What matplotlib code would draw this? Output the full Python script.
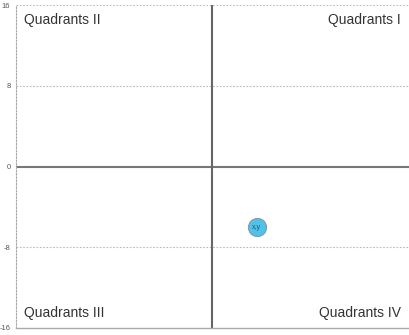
import matplotlib
matplotlib.use("Agg")
import matplotlib.pyplot as plt

x_vals = [3.6]
y_vals = [-6]
point_labels = ["x,y"]
y_ticks = [-16, -8, 0, 8, 16]
quadrant_labels = ["Quadrants I", "Quadrants II", "Quadrants III", "Quadrants IV"]

plt.rcParams['font.family'] = ['Liberation Sans', 'DejaVu Sans']
fig = plt.figure(figsize=(4.1, 3.35), dpi=100)
ax = fig.add_axes([16/410, 1-328/335, 393/410, 323/335])
ax.set_xlim(-16, 16)
ax.set_ylim(-16, 16)

for s in ['top', 'right']:
    ax.spines[s].set_visible(False)
ax.spines['left'].set_linestyle((0, (1.5, 1.5)))
ax.spines['left'].set_color('#aaaaaa')
ax.spines['left'].set_linewidth(0.8)
ax.spines['bottom'].set_color('#aaaaaa')
ax.spines['bottom'].set_linewidth(1.0)

ax.set_xticks([])
ax.set_yticks(y_ticks)
ax.set_yticklabels([str(t) for t in y_ticks], fontsize=5.5, color='#555555')
ax.tick_params(axis='y', length=0, pad=4)

for t in y_ticks:
    if t not in (0, -16):
        ax.axhline(t, color='#bbbbbb', linestyle=(0, (1.5, 1.5)), linewidth=0.8, zorder=1)

ax.axhline(0, color='#777777', linewidth=1.5, zorder=2)
ax.axvline(0, color='#666666', linewidth=1.5, zorder=2)

ax.scatter(x_vals, y_vals, s=170, color='#4ec2ea', edgecolors='#8a9aa0', linewidths=0.8, zorder=5)
for x, y, lab in zip(x_vals, y_vals, point_labels):
    ax.text(x, y, lab, fontsize=5, color='#335566', ha='center', va='center', zorder=6)

tc = '#333333'
fs = 10
ax.text(0.98, 0.955, quadrant_labels[0], transform=ax.transAxes, ha='right', va='center', fontsize=fs, color=tc)
ax.text(0.02, 0.955, quadrant_labels[1], transform=ax.transAxes, ha='left', va='center', fontsize=fs, color=tc)
ax.text(0.02, 0.045, quadrant_labels[2], transform=ax.transAxes, ha='left', va='center', fontsize=fs, color=tc)
ax.text(0.98, 0.045, quadrant_labels[3], transform=ax.transAxes, ha='right', va='center', fontsize=fs, color=tc)

fig.savefig("out.png", dpi=100)
